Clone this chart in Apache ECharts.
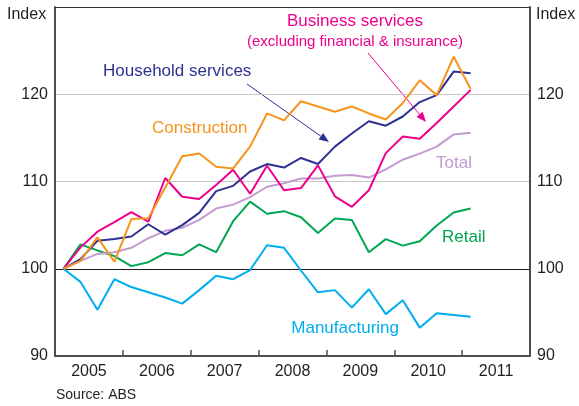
<!DOCTYPE html>
<html>
<head>
<meta charset="utf-8">
<script src="https://cdn.jsdelivr.net/npm/echarts@6/dist/echarts.min.js"></script>
<style>
  html, body { margin: 0; padding: 0; background: #fff; }
  #chart { width: 579px; height: 406px; }
</style>
</head>
<body>
<div id="chart"></div>
<script>
// Quarterly categories (plotted at mid-quarter) and year labels
const quarters = [
  'Mar-05','Jun-05','Sep-05','Dec-05','Mar-06','Jun-06','Sep-06','Dec-06',
  'Mar-07','Jun-07','Sep-07','Dec-07','Mar-08','Jun-08','Sep-08','Dec-08',
  'Mar-09','Jun-09','Sep-09','Dec-09','Mar-10','Jun-10','Sep-10','Dec-10',
  'Mar-11','Jun-11','Sep-11','Dec-11'
];
const years = ['2005','2006','2007','2008','2009','2010','2011'];

// Index values, March quarter 2005 = 100
const construction = [100, 100.9, 103.6, 100.8, 105.7, 105.8, 109.3, 112.9, 113.2, 111.7, 111.5, 114.0, 117.8, 117.0, 119.2, 118.6, 118.0, 118.6, 117.8, 117.1, 119.0, 121.6, 119.9, 124.3, 120.6];
const business = [100, 102.45, 104.25, 105.35, 106.5, 105.4, 110.4, 108.25, 108.0, 109.6, 111.35, 108.6, 111.8, 109.0, 109.25, 111.85, 108.3, 107.1, 109.0, 113.25, 115.15, 114.9, 116.7, 118.6, 120.5];
const household = [100, 101.1, 103.2, 103.4, 103.7, 105.1, 103.9, 105.0, 106.4, 108.9, 109.5, 111.15, 112.0, 111.6, 112.7, 112.0, 114.0, 115.5, 116.9, 116.4, 117.45, 119.1, 119.9, 122.6, 122.4];
const total = [100, 100.9, 101.7, 101.9, 102.4, 103.5, 104.35, 104.7, 105.6, 106.9, 107.35, 108.2, 109.4, 109.8, 110.35, 110.35, 110.65, 110.75, 110.45, 111.4, 112.5, 113.2, 114.0, 115.4, 115.6];
const retail = [100, 102.8, 102.1, 101.45, 100.3, 100.75, 101.8, 101.55, 102.8, 101.9, 105.45, 107.7, 106.3, 106.6, 105.9, 104.1, 105.75, 105.6, 101.9, 103.4, 102.65, 103.15, 104.95, 106.45, 106.9];
const manufacturing = [100, 98.5, 95.3, 98.8, 97.9, 97.3, 96.7, 96.0, 97.55, 99.2, 98.8, 99.85, 102.7, 102.4, 99.8, 97.3, 97.55, 95.55, 97.65, 94.8, 96.4, 93.25, 94.9, 94.7, 94.5];

const FONT = 'Liberation Sans, Arial, Helvetica, sans-serif';
const C = {
  construction: '#f7941d',
  business: '#ec008c',
  household: '#2e3192',
  total: '#c49bcf',
  retail: '#00a651',
  manufacturing: '#00aeef',
  axis: '#4d4d4d',
  text: '#231f20'
};

const chart = echarts.init(document.getElementById('chart'), null, { renderer: 'canvas' });

function line(name, data, color) {
  return {
    name, type: 'line', data, xAxisIndex: 0, yAxisIndex: 0,
    symbol: 'none', smooth: false,
    lineStyle: { color, width: 2 },
    emphasis: { disabled: true }
  };
}

// Straight annotation arrow with a filled head
function arrow(x1, y1, x2, y2, color) {
  const dx = x2 - x1, dy = y2 - y1;
  const len = Math.sqrt(dx * dx + dy * dy);
  const ux = dx / len, uy = dy / len;
  const hl = 10, hw = 4;
  const bx = x2 - ux * hl, by = y2 - uy * hl;
  return [
    { type: 'line', shape: { x1, y1, x2: bx, y2: by }, style: { stroke: color, lineWidth: 1 }, silent: true },
    { type: 'polygon', shape: { points: [[x2, y2], [bx - uy * hw, by + ux * hw], [bx + uy * hw, by - ux * hw]] },
      style: { fill: color }, silent: true }
  ];
}

function label(text, x, y, color, size, align) {
  return {
    type: 'text', x, y, silent: true,
    style: { text, fill: color, font: size + 'px ' + FONT, textAlign: align || 'left', textVerticalAlign: 'middle' }
  };
}

const yLabel = {
  fontSize: 16, color: C.text, fontFamily: FONT, margin: 7,
  formatter: v => (v === 130 ? '' : v)
};

chart.setOption({
  animation: false,
  backgroundColor: '#fff',
  grid: { left: 55, right: 49, top: 7, bottom: 50, containLabel: false },
  xAxis: [
    {
      type: 'category', data: quarters, boundaryGap: true, position: 'bottom',
      show: false
    },
    {
      type: 'category', data: years, boundaryGap: true, position: 'bottom',
      axisLine: { show: true, lineStyle: { color: C.axis, width: 2 } },
      axisTick: { show: true, inside: true, length: 6, lineStyle: { color: C.axis, width: 1.5 } },
      axisLabel: { fontSize: 16, color: C.text, fontFamily: FONT, margin: 8 },
      splitLine: { show: false }
    }
  ],
  yAxis: [
    {
      type: 'value', min: 90, max: 130, interval: 10, position: 'left',
      axisLine: { show: true, lineStyle: { color: C.axis, width: 2 } },
      axisTick: { show: false },
      axisLabel: yLabel,
      splitLine: { show: true, lineStyle: { color: [C.axis, '#1a1a1a', '#c8c8c8', '#c8c8c8', '#333333'], width: 1.2 } }
    },
    {
      type: 'value', min: 90, max: 130, interval: 10, position: 'right',
      axisLine: { show: true, lineStyle: { color: C.axis, width: 2 } },
      axisTick: { show: false },
      axisLabel: yLabel,
      splitLine: { show: false }
    }
  ],
  series: [
    line('Manufacturing', manufacturing, C.manufacturing),
    line('Retail', retail, C.retail),
    line('Total', total, C.total),
    line('Household services', household, C.household),
    line('Business services', business, C.business),
    line('Construction', construction, C.construction)
  ],
  graphic: [
    label('Index', 7, 15, C.text, 16),
    label('Index', 536, 15, C.text, 16),
    label('Source: ABS', 56, 395, C.text, 14),
    label('Household services', 103, 71, C.household, 17),
    label('Construction', 152, 128, C.construction, 17),
    label('Business services', 355, 21, C.business, 17, 'center'),
    label('(excluding financial & insurance)', 355, 42, C.business, 15, 'center'),
    label('Total', 436, 163, C.total, 17),
    label('Retail', 442, 237, C.retail, 17),
    label('Manufacturing', 399, 328, C.manufacturing, 17, 'right'),
    ...arrow(247, 84, 329, 142, C.household),
    ...arrow(368, 53, 426, 122, C.business)
  ]
});
</script>
</body>
</html>
